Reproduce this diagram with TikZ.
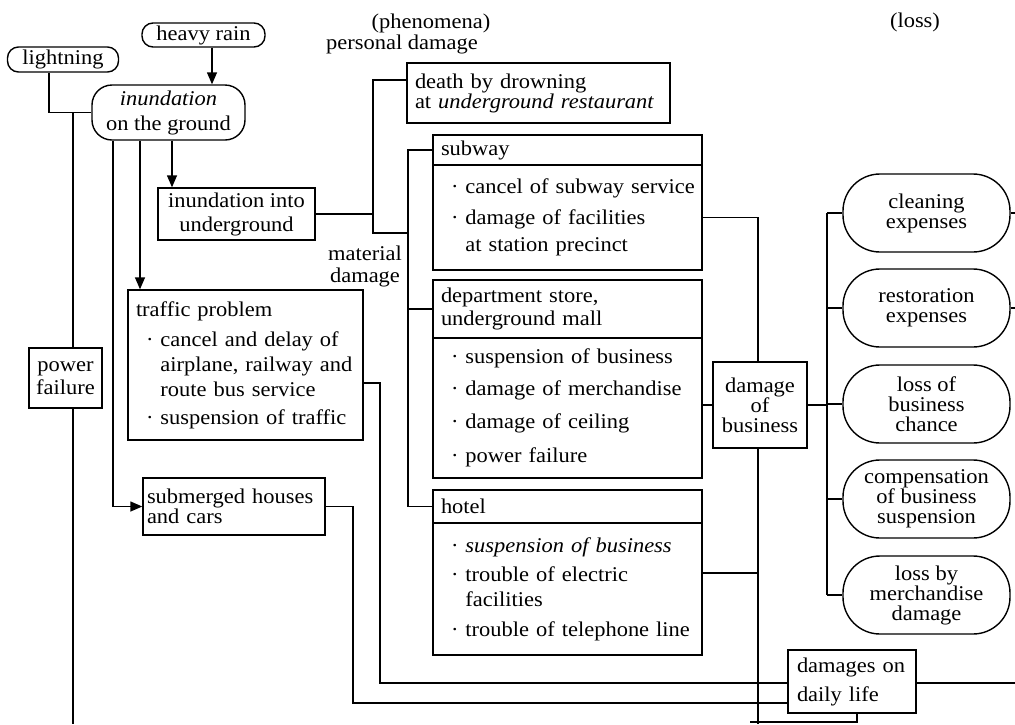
\documentclass[tikz,border=0pt]{standalone}
\usepackage{fontspec}
\setmainfont{Liberation Serif}[FakeStretch=1.07]
\usetikzlibrary{arrows.meta}
\setlength{\parindent}{0pt}
\hyphenpenalty=10000
\newcommand{\itm}{\hspace*{10pt}\textperiodcentered\ }
\newcommand{\cnt}{\hspace*{10pt}\hphantom{\textperiodcentered\ }}
\tikzset{
  ln/.style={line width=1.4pt},
  arr/.style={ln, -{Triangle[width=10pt,length=12pt]}},
  fnt/.style={font=\fontsize{21}{20}\selectfont},
  box/.style={fnt, draw, ln, rectangle, inner xsep=8pt, inner ysep=0pt, align=left},
  cbox/.style={fnt, draw, ln, rectangle, inner sep=0pt, align=center},
  rbox/.style={fnt, draw, ln, rounded corners=#1, inner sep=0pt, align=center},
  lbl/.style={fnt, inner sep=0pt, align=center},
}
\begin{document}
\begin{tikzpicture}[x=1pt,y=-1pt]
\useasboundingbox (0,0) rectangle (1015,724);

% headings
\node[lbl] (phen) at (431,23) {(phenomena)};
\node[lbl] (pers) at (402,44) {personal damage};
\node[lbl] (mat) at (365,266) {material\\[2pt]damage};
\node[lbl] (loss) at (915,22) {(loss)};

% causes
\node[rbox=11pt, minimum width=111pt, minimum height=25pt] (light) at (63,59.5) {lightning};
\node[rbox=11pt, minimum width=123pt, minimum height=24pt] (rain) at (203.5,35) {heavy rain};
\node[rbox=20pt, minimum width=153pt, minimum height=55pt] (und) at (168.5,112.5) {\textit{inundation}\\[5pt]on the ground};

% phenomena
\node[cbox, minimum width=157pt, minimum height=52pt] (uiu) at (236.5,214) {inundation into\\[4pt]underground};
\node[box, text width=219pt, minimum height=150pt] (traf) at (245.5,365)
  {traffic problem\\[10pt]\mbox{\itm cancel and delay of}\\[5pt]\mbox{\cnt airplane, railway and}\\[5pt]\mbox{\cnt route bus service}\\[8pt]\mbox{\itm suspension of traffic}};
\node[cbox, minimum width=73pt, minimum height=60pt] (pf) at (65.5,378) {power\\[3pt]failure};
\node[box, inner xsep=4pt, text width=174pt, minimum height=57pt] (subm) at (234,506.5) {\mbox{submerged houses}\\and cars};
\node[box, text width=247pt, minimum height=60pt] (death) at (538.5,93) {death by drowning\\\mbox{at \textit{underground restaurant}}};

\node[box, text width=253pt, minimum height=30pt] (subH) at (567.5,150) {subway};
\node[box, text width=253pt, minimum height=105pt] (subB) at (567.5,217.5)
  {\mbox{\itm cancel of subway service}\\[11pt]\mbox{\itm damage of facilities}\\[7pt]\mbox{\cnt at station precinct}};
\node[box, text width=253pt, minimum height=58pt] (depH) at (567.5,309) {department store,\\[3pt]underground mall};
\node[box, text width=253pt, minimum height=140pt] (depB) at (567.5,408)
  {\mbox{\itm suspension of business}\\[12pt]\mbox{\itm damage of merchandise}\\[13pt]\mbox{\itm damage of ceiling}\\[14pt]\mbox{\itm power failure}};
\node[box, text width=253pt, minimum height=33pt] (hotH) at (567.5,506.5) {hotel};
\node[box, text width=253pt, minimum height=132pt] (hotB) at (567.5,589)
  {\mbox{\itm \textit{suspension of business}}\\[9pt]\mbox{\itm trouble of electric}\\[5pt]\mbox{\cnt facilities}\\[10pt]\mbox{\itm trouble of telephone line}};

\node[cbox, minimum width=94pt, minimum height=86pt] (dob) at (760,405) {damage\\of\\business};
\node[box, inner xsep=9pt, text width=110pt, minimum height=63pt] (daily) at (852,681.5) {\mbox{damages on}\\[9pt]daily life};

% losses
\node[rbox=37pt, minimum width=167pt, minimum height=78pt] (ce) at (926.5,213) {cleaning\\expenses};
\node[rbox=37pt, minimum width=167pt, minimum height=78pt] (re) at (926.5,308) {restoration\\expenses};
\node[rbox=37pt, minimum width=167pt, minimum height=78pt] (lc) at (926.5,404) {loss of\\business\\chance};
\node[rbox=37pt, minimum width=167pt, minimum height=78pt] (cs) at (926.5,499) {compensation\\of business\\suspension};
\node[rbox=37pt, minimum width=167pt, minimum height=78pt] (lm) at (926.5,595) {loss by\\merchandise\\damage};

% helper coordinates
\coordinate (xL) at (73,0);
\coordinate (xA) at (113,0);
\coordinate (xB) at (140,0);
\coordinate (xC) at (172,0);
\coordinate (xD) at (373,0);
\coordinate (xS) at (408,0);
\coordinate (xT) at (380,0);
\coordinate (xU) at (353,0);
\coordinate (xV) at (758,0);
\coordinate (xW) at (827,0);
\coordinate (xE) at (1015,0);
\coordinate (xQ) at (750,0);
\coordinate (xR) at (857,0);
\coordinate (yP) at (0,80);
\coordinate (yM) at (0,233);
\coordinate (yT) at (0,383);
\coordinate (yH) at (0,573);
\coordinate (yD1) at (0,683);
\coordinate (yD2) at (0,703);
\coordinate (yB) at (0,722);
\coordinate (yZ) at (0,724);
\coordinate (rainx) at ([xshift=8.5pt]rain.south);
\coordinate (lx) at ([xshift=-14pt]light.south);

% connectors
\draw[arr] (rainx) -- (rainx |- und.north);
\draw[ln] (lx) |- (und.west);
\draw[ln] (und.west -| xL) -- (pf.north -| xL);
\draw[ln] (pf.south -| xL) -- (xL |- yZ);
\draw[arr] (und.south -| xC) -- (uiu.north -| xC);
\draw[arr] (und.south -| xB) -- (traf.north -| xB);
\draw[arr] (und.south -| xA) |- (subm.west);
\draw[ln] (uiu.east) -- (uiu.east -| xD);
\draw[ln] (death.west |- yP) -- (xD |- yP) -- (xD |- yM) -- (xS |- yM);
\draw[ln] (subH.west) -- (subH.west -| xS) -- (hotH.west -| xS) -- (hotH.west);
\draw[ln] (depH.west -| xS) -- (depH.west);
\draw[ln] (subB.east) -| (xV |- dob.north);
\draw[ln] (depB.east |- dob.west) -- (dob.west);
\draw[ln] (dob.east) -- (dob.east -| xW);
\draw[ln] (hotB.east |- yH) -- (xV |- yH);
\draw[ln] (dob.south -| xV) -- (xV |- yZ);
\draw[ln] (ce.west -| xW) -- (lm.west -| xW);
\foreach \n in {ce,re,lc,cs,lm} \draw[ln] (\n.west -| xW) -- (\n.west);
\draw[ln] (ce.east) -- (ce.east -| xE);
\draw[ln] (re.east) -- (re.east -| xE);
\draw[ln] (traf.east |- yT) -| (xT |- yD1) -- (daily.west |- yD1);
\draw[ln] (subm.east) -| (xU |- yD2) -- (daily.west |- yD2);
\draw[ln] (daily.east |- yD1) -- (xE |- yD1);
\draw[ln] (daily.south -| xR) |- (xQ |- yB);
\end{tikzpicture}
\end{document}
